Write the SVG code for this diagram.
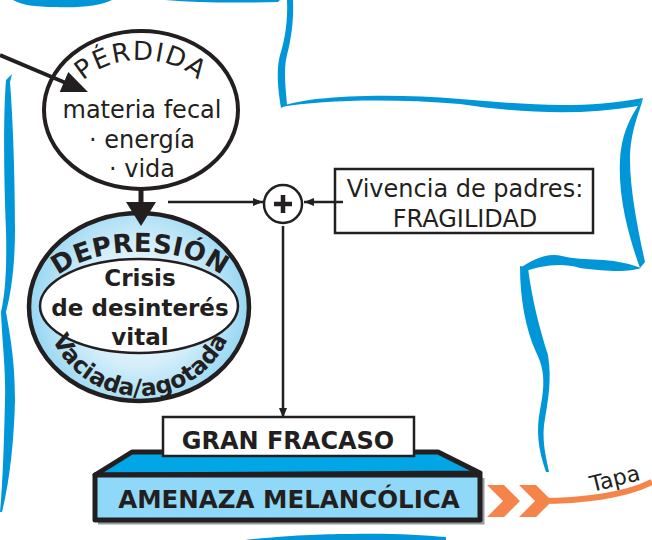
<svg xmlns="http://www.w3.org/2000/svg" width="652" height="540" viewBox="0 0 652 540">
<style>
.t{font-family:"DejaVu Sans","Liberation Sans",sans-serif;fill:#231f20}
.b{font-weight:bold}
.ln{stroke:#231f20;fill:none}
.blue{fill:#0096d8}
.or{fill:#f5844a}
</style>
<defs>
<radialGradient id="gDep" cx="139" cy="305" r="112" gradientUnits="userSpaceOnUse">
<stop offset="0" stop-color="#ffffff"/>
<stop offset="0.55" stop-color="#d4eefa"/>
<stop offset="1" stop-color="#93d5f2"/>
</radialGradient>
<marker id="ah" markerWidth="10" markerHeight="8" refX="10" refY="4" orient="auto" markerUnits="userSpaceOnUse">
<path d="M0,0 L10,4 L0,8 z" fill="#231f20"/>
</marker>
<path id="arcPer" d="M70,110 A71,50 0 0,1 212,110"/>
<path id="arcDep" d="M45,300 A95,48 0 0,1 235,300"/>
<path id="arcVac" d="M44,300 A96,96 0 0,0 236,300"/>
</defs>

<g id="decor">
<path class="blue" d="M13,0 L112,0 C100,6 80,8 55,7 C35,7 22,5 13,0 Z"/>
<path class="blue" d="M165,0 L280,0 L278,2 C240,3 200,3 165,0 Z"/>
<path class="blue" d="M287,0 L293,0 C294,20 291,40 287,55 C283,70 286,90 287,105 L281,108 C278,90 276,70 280,55 C285,40 288,20 287,0 Z"/>
<path class="blue" d="M281,107 C300,97 380,92 460,99 C520,104 580,110 643,98 L638,106 C580,116 520,113 460,104 C390,98 320,100 281,107 Z"/>
<path class="blue" d="M643,98 C632,115 622,130 620,160 C618,200 630,240 640,268 L645,262 C638,230 630,190 630,160 C630,130 640,112 643,98 Z"/>
<path class="blue" d="M641,268 C610,256 585,262 562,256 C545,252 530,262 520,268 L523,272 C540,266 560,262 580,268 C610,272 630,272 641,268 Z"/>
<path class="blue" d="M520,266 L528,268 C532,300 540,330 548,355 C552,380 548,400 544,425 C542,445 547,460 549,472 L546,472 C538,450 536,430 540,410 C545,385 545,370 536,352 C526,330 520,300 520,266 Z"/>
<path class="blue" d="M12,74 L6,80 C3,120 4,180 6,230 C7,270 5,295 1,312 C2,340 6,370 5,400 C4,440 3,480 0,512 L2,512 C10,480 14,440 15,400 C15,360 10,335 6,312 C12,290 15,260 15,230 C15,180 13,120 10,82 Z"/>
<path class="blue" d="M245,540 C290,535 330,534 350,534 C390,533 420,535 446,537 L446,540 Z"/>
</g>

<g id="perdida">
<ellipse cx="141" cy="110" rx="97" ry="79" fill="#fff" stroke="#231f20" stroke-width="4"/>
<text class="t" font-size="26" letter-spacing="1.5"><textPath href="#arcPer" startOffset="50%" text-anchor="middle">PÉRDIDA</textPath></text>
<text class="t" font-size="24" text-anchor="middle"><tspan x="142" y="118">materia fecal</tspan><tspan x="142" y="148">· energía</tspan><tspan x="142" y="177">· vida</tspan></text>
</g>

<g id="depresion">
<ellipse cx="139" cy="307" rx="110" ry="94" fill="url(#gDep)" stroke="#231f20" stroke-width="4.5"/>
<ellipse cx="139" cy="306" rx="99" ry="47" fill="#fff" stroke="#231f20" stroke-width="2.5"/>
<text class="t b" font-size="26" letter-spacing="0.5"><textPath href="#arcDep" startOffset="50%" text-anchor="middle">DEPRESIÓN</textPath></text>
<text class="t b" font-size="23.5"><textPath href="#arcVac" startOffset="50%" text-anchor="middle">Vaciada/agotada</textPath></text>
<text class="t b" font-size="23" text-anchor="middle"><tspan x="140" y="286">Crisis</tspan><tspan x="140" y="316">de desinterés</tspan><tspan x="140" y="345">vital</tspan></text>
</g>

<g id="plus">
<circle cx="283" cy="204" r="19" fill="#fff" stroke="#231f20" stroke-width="2.5"/>
<path d="M274,204 H292 M283,195 V213" stroke="#231f20" stroke-width="4.5" fill="none"/>
</g>

<g id="vivencia">
<rect x="335" y="169" width="258" height="64" fill="#fff" stroke="#231f20" stroke-width="2.5"/>
<text class="t" font-size="24" text-anchor="middle"><tspan x="465" y="197">Vivencia de padres:</tspan><tspan x="465" y="227">FRAGILIDAD</tspan></text>
</g>

<g id="amenaza">
<path d="M98,523 H483 V478" fill="none" stroke="#9a9a9a" stroke-width="3"/>
<path d="M95,475 L132,452 L438,452 L480,473 Z" fill="#00a6e6" stroke="#231f20" stroke-width="5" stroke-linejoin="round"/>
<rect x="95" y="475" width="385" height="45" fill="#8fd8f7" stroke="#231f20" stroke-width="5" stroke-linejoin="round"/>
<text class="t b" font-size="24.5" text-anchor="middle" x="289" y="508">AMENAZA MELANCÓLICA</text>
</g>

<g id="gran-fracaso">
<rect x="163" y="417" width="251" height="39" fill="#fff" stroke="#231f20" stroke-width="2.5"/>
<text class="t b" font-size="24" text-anchor="middle" x="288" y="449">GRAN FRACASO</text>
</g>

<g id="connectors">
<line class="ln" x1="0" y1="55" x2="66" y2="83" stroke-width="4"/>
<polygon points="88,92 59.7,92.1 68.3,71.9" fill="#231f20"/>
<line class="ln" x1="141" y1="188" x2="141" y2="206" stroke-width="5"/>
<polygon points="126,202 156,202 141,226" fill="#231f20"/>
<line class="ln" x1="168" y1="202" x2="263" y2="202" stroke-width="2.5" marker-end="url(#ah)"/>
<line class="ln" x1="343" y1="202" x2="304" y2="202" stroke-width="2.5" marker-end="url(#ah)"/>
<line class="ln" x1="283" y1="226" x2="283" y2="418" stroke-width="2.5" marker-end="url(#ah)"/>
<polygon class="or" points="487,485 504,485 520,501 504,517 487,517 503,501"/>
<polygon class="or" points="519,485 536,485 552,501 536,517 519,517 535,501"/>
<path d="M540,501 C580,501 625,496 652,482" fill="none" stroke="#f5844a" stroke-width="6"/>
<text class="t" x="592" y="492" font-size="22" transform="rotate(-14 592 492)">Tapa</text>
</g>
</svg>
